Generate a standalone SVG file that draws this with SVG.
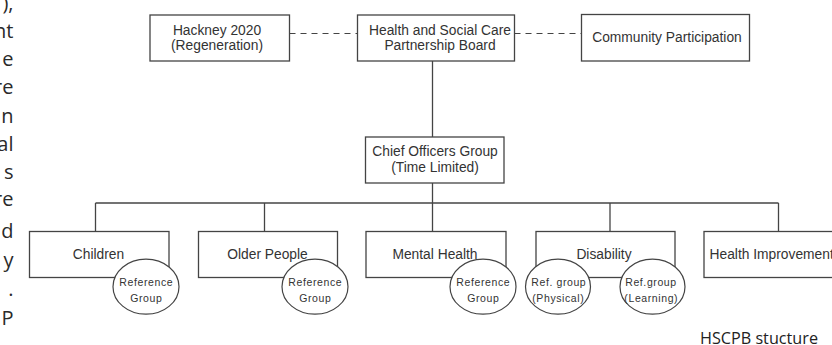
<svg xmlns="http://www.w3.org/2000/svg" width="832" height="345" viewBox="0 0 832 345">
<style>
.box{fill:#fff;stroke:#444;stroke-width:1.3}
.ell{fill:#fff;stroke:#444;stroke-width:1.2}
.ln{fill:none;stroke:#444;stroke-width:1.3}
.dash{fill:none;stroke:#444;stroke-width:1.2;stroke-dasharray:6 5}
.t{font-family:"Liberation Sans",Arial,sans-serif;font-size:13.8px;fill:#333;text-anchor:middle}
.s{font-family:"Liberation Sans",Arial,sans-serif;font-size:10.5px;fill:#333;text-anchor:middle;letter-spacing:0.6px}
.body{font-family:"Open Sans","Noto Sans",sans-serif;font-size:20px;fill:#2a2a2a;text-anchor:end}
.cap{font-family:"Open Sans","Noto Sans",sans-serif;font-size:16.2px;fill:#222}
</style>
<rect width="832" height="345" fill="#fff"/>
<g id="page-text">
<text class="body" x="13.5" y="10">),</text>
<text class="body" x="13.5" y="38">nt</text>
<text class="body" x="13.5" y="66">e</text>
<text class="body" x="13.5" y="94">re</text>
<text class="body" x="13.5" y="123">n</text>
<text class="body" x="13.5" y="151">al</text>
<text class="body" x="13.5" y="179">s</text>
<text class="body" x="13.5" y="206">re</text>
<text class="body" x="13.5" y="238">d</text>
<text class="body" x="13.5" y="267">y</text>
<text class="body" x="13.5" y="296">.</text>
<text class="body" x="13.5" y="325">P</text>
</g>
<g id="connectors">
<line class="dash" x1="289.5" y1="33.5" x2="357.5" y2="33.5"/>
<line class="dash" x1="514.5" y1="33.5" x2="581.5" y2="33.5"/>
<line class="ln" x1="432.5" y1="61" x2="432.5" y2="137"/>
<line class="ln" x1="432.5" y1="183" x2="432.5" y2="231.5"/>
<line class="ln" x1="95.5" y1="203" x2="778.5" y2="203"/>
<line class="ln" x1="95.5" y1="203" x2="95.5" y2="231.5"/>
<line class="ln" x1="264.5" y1="203" x2="264.5" y2="231.5"/>
<line class="ln" x1="610" y1="203" x2="610" y2="231.5"/>
<line class="ln" x1="778.5" y1="203" x2="778.5" y2="231.5"/>
</g>
<g id="hackney">
<rect class="box" x="150" y="15" width="139.5" height="46"/>
<text class="t" x="217" y="34.5">Hackney 2020</text>
<text class="t" x="217" y="49.5">(Regeneration)</text>
</g>
<g id="hscpb">
<rect class="box" x="357.5" y="15" width="157" height="46"/>
<text class="t" x="440" y="34.5">Health and Social Care</text>
<text class="t" x="440" y="49.5">Partnership Board</text>
</g>
<g id="community">
<rect class="box" x="581.5" y="14.5" width="168" height="46.5"/>
<text class="t" x="667" y="42">Community Participation</text>
</g>
<g id="chief">
<rect class="box" x="365.5" y="137" width="138.5" height="46"/>
<text class="t" x="435" y="156">Chief Officers Group</text>
<text class="t" x="435" y="172">(Time Limited)</text>
</g>
<g id="children">
<rect class="box" x="29.5" y="231.5" width="139.5" height="46"/>
<text class="t" x="98.5" y="259">Children</text>
</g>
<g id="older-people">
<rect class="box" x="198.5" y="231.5" width="139" height="46"/>
<text class="t" x="267.5" y="259">Older People</text>
</g>
<g id="mental-health">
<rect class="box" x="366" y="231.5" width="140" height="46"/>
<text class="t" x="435" y="259">Mental Health</text>
</g>
<g id="disability">
<rect class="box" x="536" y="231.5" width="139" height="46"/>
<text class="t" x="604" y="259">Disability</text>
</g>
<g id="health-improvement">
<rect class="box" x="704" y="231.5" width="150" height="46"/>
<text class="t" x="709.5" y="259" style="text-anchor:start">Health Improvement</text>
</g>
<g id="ref-children">
<ellipse class="ell" cx="146" cy="286.7" rx="33" ry="27.5"/>
<text class="s" x="146.3" y="286">Reference</text>
<text class="s" x="146.3" y="302">Group</text>
</g>
<g id="ref-older">
<ellipse class="ell" cx="315" cy="286.7" rx="33" ry="27.5"/>
<text class="s" x="315.3" y="286">Reference</text>
<text class="s" x="315.3" y="302">Group</text>
</g>
<g id="ref-mental">
<ellipse class="ell" cx="483" cy="286.7" rx="33" ry="27.5"/>
<text class="s" x="483.3" y="286">Reference</text>
<text class="s" x="483.3" y="302">Group</text>
</g>
<g id="ref-physical">
<ellipse class="ell" cx="558" cy="286.7" rx="32.5" ry="27.5"/>
<text class="s" x="558.8" y="286">Ref. group</text>
<text class="s" x="558.3" y="302">(Physical)</text>
</g>
<g id="ref-learning">
<ellipse class="ell" cx="652.5" cy="286.7" rx="32.5" ry="27.5"/>
<text class="s" x="651" y="286">Ref.group</text>
<text class="s" x="651.3" y="302">(Learning)</text>
</g>
<text class="cap" x="700" y="344">HSCPB stucture</text>
</svg>
